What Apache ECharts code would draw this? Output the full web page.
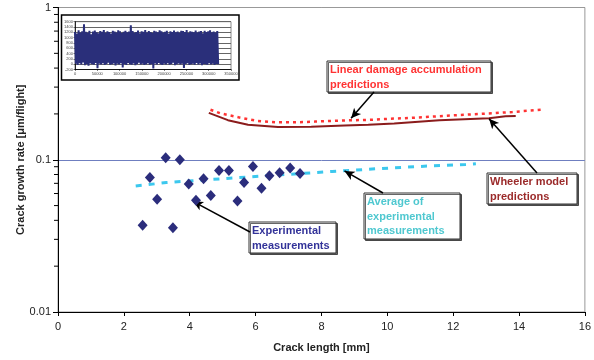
<!DOCTYPE html>
<html>
<head>
<meta charset="utf-8">
<script src="https://cdn.jsdelivr.net/npm/echarts@6/dist/echarts.min.js"></script>
<style>
  html, body { margin: 0; padding: 0; background: #fff; }
  #chart { width: 594px; height: 360px; }
</style>
</head>
<body>
<div id="chart"></div>
<script>
// experimental crack growth rates [crack length mm, rate um/flight]
var experimental = [
    [2.57, 0.0372], [2.79, 0.0765], [3.01, 0.0551], [3.27, 0.103], [3.49, 0.0357],
    [3.70, 0.100], [3.97, 0.0692], [4.19, 0.0543], [4.42, 0.075], [4.64, 0.0582],
    [4.89, 0.0851], [5.19, 0.0851], [5.45, 0.0535], [5.65, 0.071], [5.92, 0.0903],
    [6.18, 0.0651], [6.42, 0.0785], [6.73, 0.082], [7.05, 0.0882], [7.35, 0.0813]
];
var average = [
    [2.36, 0.0673], [3.29, 0.0708], [5.31, 0.0759], [8.33, 0.0838],
    [9.76, 0.0875], [11.27, 0.091], [12.38, 0.093], [12.69, 0.094]
];
var linearDamage = [
    [4.63, 0.213], [4.92, 0.202], [5.48, 0.190], [6.04, 0.180], [6.63, 0.176],
    [7.18, 0.176], [7.79, 0.178], [8.60, 0.181], [9.51, 0.183], [10.11, 0.186],
    [10.67, 0.188], [12.08, 0.196], [13.19, 0.202], [13.80, 0.206], [14.66, 0.213]
];
var wheeler = [
    [4.58, 0.203], [5.16, 0.182], [5.77, 0.170], [6.68, 0.164], [7.69, 0.165],
    [8.70, 0.168], [9.42, 0.170], [10.21, 0.173], [11.58, 0.182], [13.09, 0.187],
    [13.59, 0.193], [13.90, 0.194]
];
var minorTicks = [0.02, 0.03, 0.04, 0.05, 0.06, 0.07, 0.08, 0.09,
                  0.2, 0.3, 0.4, 0.5, 0.6, 0.7, 0.8, 0.9];

// inset: load spectrum peaks and valleys
var insetPeaks = [1210,1150,1280,1190,1240,1500,1220,1180,1260,1130,1230,1270,1200,1160,1250,1220,
    1290,1180,1240,1210,1150,1260,1230,1190,1280,1240,1170,1220,1260,1200,1230,1470,1250,1180,1210,
    1270,1160,1240,1220,1290,1190,1250,1210,1170,1260,1230,1200,1280,1240,1190,1220,1260,1150,1240,
    1210,1270,1200,1230,1180,1260,1250,1210,1290,1170,1240,1220,1200,1270,1190,1230,1250,1160,1260,
    1210,1240,1280,1200,1230,1190,1250];
var insetValleys = [20,-30,40,-10,60,-40,10,-60,30,0,-20,50,-150,20,-10,40,-30,10,60,-20,0,30,-50,
    20,-10,40,-120,10,-30,50,0,-20,30,-40,10,60,-10,20,-30,0,40,-20,10,-160,30,-10,50,0,-30,20,-10,
    40,-20,10,60,-40,0,30,-10,20,-140,10,40,-30,0,20,-20,50,-10,30,-40,10,0,-20,40,-10,20,-30,10,0];
var insetStep = 2020; // flights between reversals

var insetData = [];
for (var i = 0; i < insetPeaks.length; i++) {
    insetData.push([(2 * i) * insetStep, insetPeaks[i]]);
    insetData.push([(2 * i + 1) * insetStep, insetValleys[i]]);
}

var font = 'Liberation Sans, Arial, sans-serif';

function plain(v) { return String(v); }

function labelBox(x, y, w, h, lines, color) {
    return {
        type: 'group',
        z: 20,
        children: [
            {
                type: 'rect',
                shape: { x: x, y: y, width: w, height: h },
                style: {
                    fill: '#fff', stroke: '#333', lineWidth: 1,
                    shadowColor: 'rgba(0,0,0,0.6)', shadowOffsetX: 1.5, shadowOffsetY: 1.5
                }
            },
            {
                type: 'text',
                x: x + 3, y: y + 2,
                style: {
                    text: lines.join('\n'), fill: color,
                    font: 'bold 11px ' + font, lineHeight: 14.5
                }
            }
        ]
    };
}

var myChart = echarts.init(document.getElementById('chart'));

var option = {
    animation: false,
    grid: [
        { left: 58, right: 8, top: 7.5, bottom: 48, show: true, borderColor: '#999', borderWidth: 1 },
        { left: 75, right: 363, top: 21.7, bottom: 290.5, z: 3, show: true, borderColor: '#888', borderWidth: 1 }
    ],
    xAxis: [
        {
            type: 'value', gridIndex: 0, min: 0, max: 16, interval: 2,
            name: 'Crack length [mm]', nameLocation: 'middle', nameGap: 30, nameMoveOverlap: false,
            nameTextStyle: { fontFamily: font, fontWeight: 'bold', fontSize: 11, color: '#222' },
            axisLine: { lineStyle: { color: '#000', width: 1 } },
            axisTick: { length: 4, lineStyle: { color: '#000' } },
            axisLabel: { fontFamily: font, fontSize: 11, color: '#222', margin: 9 },
            splitLine: { show: false }
        },
        {
            type: 'value', gridIndex: 1, min: 0, max: 350000, interval: 50000, z: 3,
            axisLine: { onZero: false, lineStyle: { color: '#000', width: 0.8 } },
            axisTick: { length: 1.5, lineStyle: { color: '#000', width: 0.5 } },
            axisLabel: { fontFamily: font, fontSize: 4, color: '#444', margin: 2, formatter: plain },
            splitLine: { show: false }
        }
    ],
    yAxis: [
        {
            type: 'log', gridIndex: 0, logBase: 10, min: 0.01, max: 1,
            name: 'Crack growth rate [μm/flight]', nameLocation: 'middle', nameGap: 32, nameMoveOverlap: false,
            nameTextStyle: { fontFamily: font, fontWeight: 'bold', fontSize: 11, color: '#222' },
            axisLine: { show: true, lineStyle: { color: '#000', width: 1 } },
            axisTick: { length: 5, lineStyle: { color: '#000' } },
            axisLabel: { fontFamily: font, fontSize: 11, color: '#222', margin: 7 },
            splitLine: { show: true, lineStyle: { color: ['#000', '#6f7fc0', '#999'], width: 1 } }
        },
        {
            type: 'value', gridIndex: 1, min: -200, max: 1600, interval: 200, z: 3,
            axisLine: { show: true, lineStyle: { color: '#000', width: 0.8 } },
            axisTick: { length: 1.5, lineStyle: { color: '#000', width: 0.5 } },
            axisLabel: { fontFamily: font, fontSize: 4, color: '#444', margin: 2, formatter: plain },
            splitLine: { show: true, lineStyle: { color: '#666', width: 1 } }
        }
    ],
    graphic: [
        {
            type: 'rect', z: 1,
            shape: { x: 61.5, y: 15, width: 177.5, height: 65 },
            style: { fill: '#fff', stroke: '#000', lineWidth: 1.5 }
        },
        labelBox(327, 61, 164, 31, ['Linear damage accumulation', 'predictions'], '#ff3333'),
        labelBox(487, 173, 90, 31, ['Wheeler model', 'predictions'], '#9b2a2a'),
        labelBox(364, 193, 96, 46, ['Average of', 'experimental', 'measurements'], '#4fc8d0'),
        labelBox(249, 222, 87, 31, ['Experimental', 'measurements'], '#333399')
    ],
    series: [
        {
            type: 'line', name: 'Load spectrum', xAxisIndex: 1, yAxisIndex: 1,
            data: insetData, symbol: 'none', z: 4,
            lineStyle: { color: '#2a2f7a', width: 2 }
        },
        {
            type: 'custom', name: 'minor ticks', xAxisIndex: 0, yAxisIndex: 0,
            data: minorTicks.map(function (v) { return [0, v]; }),
            clip: false, silent: true,
            renderItem: function (params, api) {
                var p = api.coord([0, api.value(1)]);
                return {
                    type: 'line',
                    shape: { x1: p[0] - 4, y1: p[1], x2: p[0], y2: p[1] },
                    style: { stroke: '#000', lineWidth: 1 }
                };
            }
        },
        {
            type: 'line', name: 'Linear damage accumulation predictions',
            data: linearDamage, symbol: 'none', z: 4,
            lineStyle: { color: '#ff3333', width: 2.5, type: [3, 4] }
        },
        {
            type: 'line', name: 'Wheeler model predictions',
            data: wheeler, symbol: 'none', z: 4,
            lineStyle: { color: '#8b1c1c', width: 2 },
            markLine: {
                silent: true, symbol: ['none', 'arrow'], symbolSize: [7, 10],
                label: { show: false },
                lineStyle: { color: '#000', width: 1.5, type: 'solid' },
                data: [
                    [{ x: 374, y: 92 }, { coord: [8.9, 0.187] }],
                    [{ x: 537, y: 173 }, { coord: [13.09, 0.186] }],
                    [{ x: 383, y: 193 }, { coord: [8.7, 0.0845] }],
                    [{ x: 250, y: 232 }, { coord: [4.1, 0.0533] }]
                ]
            }
        },
        {
            type: 'line', name: 'Average of experimental measurements',
            data: average, symbol: 'none', z: 4,
            lineStyle: { color: '#3cc8ee', width: 3, type: [6, 7] }
        },
        {
            type: 'scatter', name: 'Experimental measurements',
            data: experimental, symbol: 'diamond', symbolSize: [10, 11], z: 5,
            itemStyle: { color: '#2b2d7c', opacity: 1 }
        }
    ]
};

myChart.setOption(option);
</script>
</body>
</html>
